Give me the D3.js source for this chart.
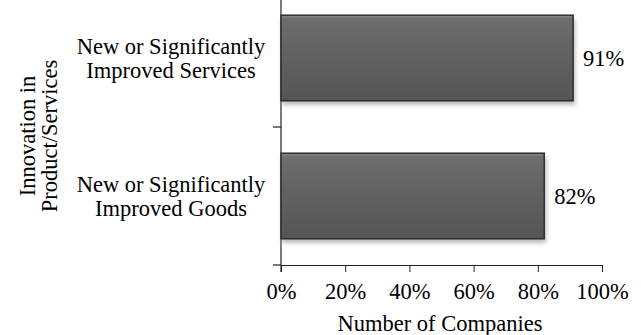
<!DOCTYPE html>
<html>
<head>
<meta charset="utf-8">
<script src="https://cdn.jsdelivr.net/npm/d3@7"></script>
<style>
  body { margin: 0; background: #fff; }
  svg text { font-family: "Liberation Serif", "Times New Roman", serif; fill: #000; }
</style>
</head>
<body>
<div id="chart"></div>
<script>
// data
var categories = ["Services", "Goods"];
var labelLines = [["New or Significantly", "Improved Services"],
                  ["New or Significantly", "Improved Goods"]];
var values = [91, 82];
var xTicks = [0, 20, 40, 60, 80, 100];

var W = 641, H = 335;
var plot = {left: 281, right: 602, top: -11, bottom: 265};
var fs = "22.5px";

var svg = d3.select("#chart").append("svg")
    .attr("width", W)
    .attr("height", H);

var defs = svg.append("defs");

var grad = defs.append("linearGradient")
    .attr("id", "barFill")
    .attr("x1", 0).attr("y1", 0).attr("x2", 0).attr("y2", 1);
grad.append("stop").attr("offset", "0%").attr("stop-color", "#8c8c8c");
grad.append("stop").attr("offset", "4%").attr("stop-color", "#6e6e6e");
grad.append("stop").attr("offset", "40%").attr("stop-color", "#636363");
grad.append("stop").attr("offset", "100%").attr("stop-color", "#555555");

var shadow = defs.append("filter")
    .attr("id", "shadow")
    .attr("x", "-5%").attr("y", "-10%")
    .attr("width", "115%").attr("height", "130%");
shadow.append("feGaussianBlur").attr("stdDeviation", 2);

var x = d3.scaleLinear()
    .domain([0, 100])
    .range([plot.left, plot.right]);

var y = d3.scaleBand()
    .domain(categories)
    .range([plot.top, plot.bottom])
    .paddingInner(0.38)
    .paddingOuter(0.19);

// x axis
var xAxis = svg.append("g")
    .attr("transform", "translate(0," + plot.bottom + ")")
    .call(d3.axisBottom(x).tickValues(xTicks).tickSize(7).tickSizeOuter(0)
      .tickFormat(function(d) { return d + "%"; }));
xAxis.select(".domain").attr("stroke", "#222").attr("stroke-width", 1.2);
xAxis.selectAll(".tick line").attr("stroke", "#222");
xAxis.selectAll("text")
    .attr("y", 34)
    .attr("dy", 0)
    .style("font-size", fs)
    .style("font-family", "'Liberation Serif', serif")
    .attr("fill", "#000");

// y axis: line plus ticks between categories
svg.append("line")
    .attr("x1", plot.left).attr("x2", plot.left)
    .attr("y1", plot.top).attr("y2", plot.bottom + 7)
    .attr("stroke", "#222").attr("stroke-width", 1.2);

var gap = (y.step() - y.bandwidth()) / 2;
var bounds = categories.map(function(c) { return y(c) + y.bandwidth() + gap; });
svg.selectAll(".ytick")
  .data(bounds)
  .enter().append("line")
    .attr("x1", plot.left - 8).attr("x2", plot.left)
    .attr("y1", function(d) { return d; })
    .attr("y2", function(d) { return d; })
    .attr("stroke", "#222").attr("stroke-width", 1.2);

// bar shadows
svg.selectAll(".shadow")
  .data(values)
  .enter().append("rect")
    .attr("x", x(0) + 1)
    .attr("y", function(d, i) { return y(categories[i]) + 4; })
    .attr("width", function(d) { return x(d) - x(0) + 1; })
    .attr("height", y.bandwidth())
    .attr("fill", "#9a9a9a")
    .attr("opacity", 0.7)
    .attr("filter", "url(#shadow)");

// bars
svg.selectAll(".bar")
  .data(values)
  .enter().append("rect")
    .attr("x", x(0))
    .attr("y", function(d, i) { return y(categories[i]); })
    .attr("width", function(d) { return x(d) - x(0); })
    .attr("height", y.bandwidth())
    .attr("fill", "url(#barFill)")
    .attr("stroke", "#2e2e2e")
    .attr("stroke-width", 1.5);

// value labels
svg.selectAll(".val")
  .data(values)
  .enter().append("text")
    .attr("x", function(d) { return x(d) + 10; })
    .attr("y", function(d, i) { return y(categories[i]) + y.bandwidth() / 2 + 8; })
    .style("font-size", fs)
    .text(function(d) { return d + "%"; });

// category labels
var cat = svg.selectAll(".cat")
  .data(labelLines)
  .enter().append("text")
    .attr("text-anchor", "middle")
    .style("font-size", fs);
cat.selectAll("tspan")
  .data(function(d, i) { return d.map(function(t, j) { return {t: t, i: i, j: j}; }); })
  .enter().append("tspan")
    .attr("x", 171)
    .attr("y", function(d) {
      return y(categories[d.i]) + y.bandwidth() / 2 - 4 + d.j * 24;
    })
    .text(function(d) { return d.t; });

// axis titles
var yt = svg.append("text")
    .attr("transform", "translate(0,136) rotate(-90)")
    .attr("text-anchor", "middle")
    .style("font-size", fs);
yt.append("tspan").attr("x", 0).attr("y", 35).text("Innovation in");
yt.append("tspan").attr("x", 0).attr("y", 57).text("Product/Services");

svg.append("text")
    .attr("x", 440)
    .attr("y", 331)
    .attr("text-anchor", "middle")
    .style("font-size", fs)
    .text("Number of Companies");
</script>
</body>
</html>
